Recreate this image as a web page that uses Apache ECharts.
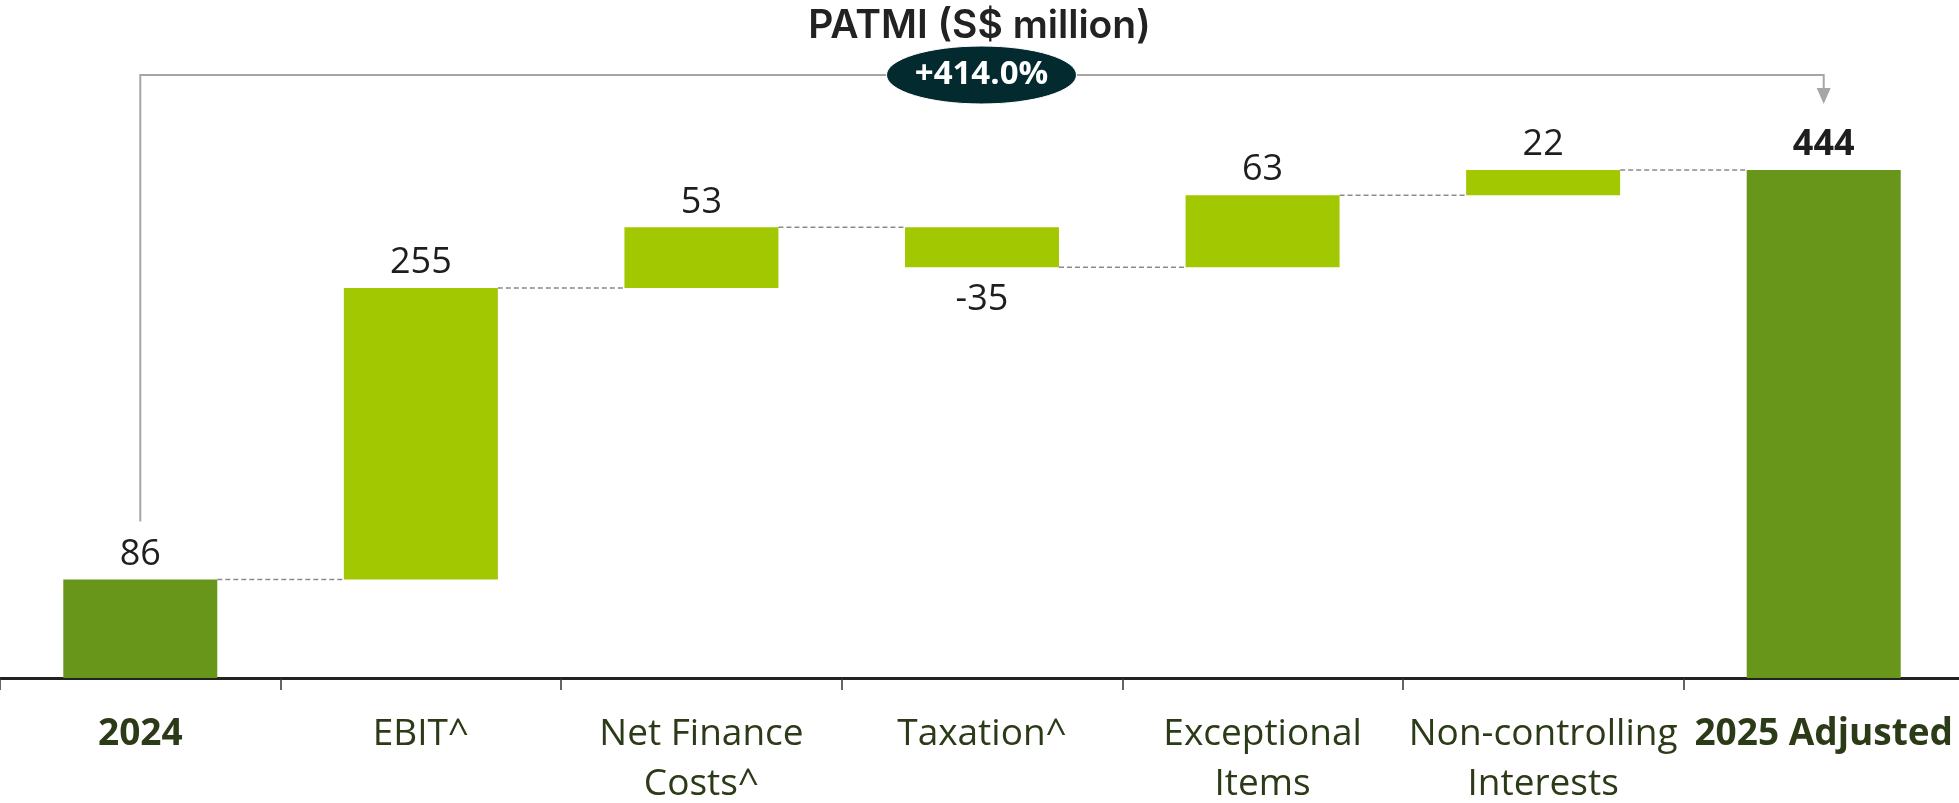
<!DOCTYPE html>
<html>
<head>
<meta charset="utf-8">
<title>PATMI waterfall</title>
<script src="https://cdn.jsdelivr.net/npm/echarts@6/dist/echarts.min.js"></script>
<style>
  html, body { margin: 0; padding: 0; background: #fff; }
  #chart { width: 1959px; height: 803px; }
</style>
</head>
<body>
<div id="chart"></div>
<script>
// data
const categories = ['2024', 'EBIT^', 'Net Finance\nCosts^', 'Taxation^', 'Exceptional\nItems', 'Non-controlling\nInterests', '2025 Adjusted'];
const changes = [86, 255, 53, -35, 63, 22, 444];
const isTotal = [true, false, false, false, false, false, true];
const titleText = 'PATMI (S$ million)';
const growthText = '+414.0%';

const FONT = '"Open Sans", sans-serif';
const BAR_W = 154;
const totalColor = '#68961a';
const stepColor = '#a1c800';
const labelColor = '#2b3a17';

// work out invisible base + visible height for each bar
const base = [];
const height = [];
const level = [];
let run = 0;
changes.forEach((d, i) => {
  if (isTotal[i]) {
    base.push(0);
    height.push(d);
    run = d;
  } else if (d >= 0) {
    base.push(run);
    height.push(d);
    run += d;
  } else {
    base.push(run + d);
    height.push(-d);
    run += d;
  }
  level.push(run);
});

const chart = echarts.init(document.getElementById('chart'));

const option = {
  animation: false,
  title: {
    text: titleText,
    left: 'center',
    top: 2,
    textStyle: { fontFamily: 'Inter, sans-serif', fontWeight: 600, fontSize: 39, color: '#222' }
  },
  grid: { left: 0, right: -5, top: 106, bottom: 125, containLabel: false, outerBoundsMode: 'none' },
  xAxis: {
    type: 'category',
    data: categories,
    axisLine: { lineStyle: { color: '#222', width: 3 } },
    axisTick: { show: true, length: 12, lineStyle: { color: '#333', width: 1.5 } },
    axisLabel: {
      interval: 0,
      margin: 31,
      fontFamily: FONT,
      fontSize: 37,
      lineHeight: 50,
      color: labelColor,
      formatter: (v, i) => isTotal[i] ? '{b|' + v + '}' : v,
      rich: {
        b: { fontFamily: FONT, fontSize: 37, lineHeight: 50, fontWeight: 'bold', color: labelColor }
      }
    }
  },
  yAxis: { type: 'value', min: 0, max: 500, show: false },
  series: [
    {
      name: 'base',
      type: 'bar',
      stack: 'w',
      silent: true,
      barWidth: BAR_W,
      itemStyle: { color: 'transparent' },
      data: base
    },
    {
      name: 'PATMI',
      type: 'bar',
      stack: 'w',
      barWidth: BAR_W,
      data: height.map((h, i) => ({
        value: h,
        itemStyle: { color: isTotal[i] ? totalColor : stepColor },
        label: {
          show: true,
          position: changes[i] < 0 ? 'bottom' : 'top',
          distance: changes[i] < 0 ? 14 : 7,
          fontFamily: FONT,
          fontSize: 36,
          fontWeight: i === changes.length - 1 ? 'bold' : 'normal',
          color: '#1e1e1e',
          formatter: () => String(changes[i])
        }
      }))
    }
  ]
};

chart.setOption(option);

// annotations placed from the axis scales
function px(i, v) {
  return chart.convertToPixel({ gridIndex: 0 }, [i, v]);
}

function drawExtras() {
  const W = chart.getWidth();
  const graphics = [];
  const dash = { stroke: '#8c8c8c', lineWidth: 1.5, lineDash: [5, 3] };

  // dashed connectors between bars
  for (let i = 0; i < changes.length - 1; i++) {
    const a = px(i, level[i]);
    const b = px(i + 1, level[i]);
    graphics.push({
      type: 'line', silent: true, z: 5,
      shape: { x1: a[0] + BAR_W / 2, y1: a[1], x2: b[0] - BAR_W / 2, y2: b[1] },
      style: dash
    });
  }

  // bracket from first to last bar with arrow
  const first = px(0, changes[0]);
  const last = px(changes.length - 1, level[level.length - 1]);
  const bracketY = 75;
  const leftBottom = first[1] - 58;
  const arrowTip = last[1] - 66;
  const gray = { stroke: '#a6a6a6', lineWidth: 2, fill: null };
  graphics.push({
    type: 'polyline', silent: true, z: 5,
    shape: { points: [[first[0], leftBottom], [first[0], bracketY], [last[0], bracketY], [last[0], arrowTip - 14]] },
    style: gray
  });
  graphics.push({
    type: 'polygon', silent: true, z: 5,
    shape: { points: [[last[0] - 7, arrowTip - 16], [last[0] + 7, arrowTip - 16], [last[0], arrowTip]] },
    style: { fill: '#a6a6a6' }
  });

  // growth badge
  graphics.push({
    type: 'ellipse', silent: true, z: 10,
    shape: { cx: W / 2 + 2, cy: 75, rx: 95, ry: 29 },
    style: { fill: '#022a2f', stroke: '#ffffff', lineWidth: 1 }
  });
  graphics.push({
    type: 'text', silent: true, z: 11,
    x: W / 2 + 2, y: 75,
    style: {
      text: growthText, fill: '#fff', fontFamily: FONT, fontWeight: 'bold', fontSize: 33,
      align: 'center', verticalAlign: 'middle'
    }
  });

  chart.setOption({ graphic: graphics });
}

drawExtras();
window.addEventListener('resize', () => {
  chart.resize();
  drawExtras();
});
</script>
</body>
</html>
